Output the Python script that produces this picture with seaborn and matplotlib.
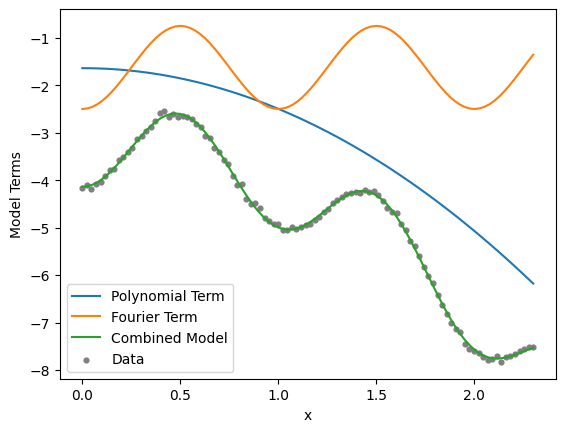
import numpy as np
import pandas as pd
import matplotlib
matplotlib.use("Agg")
import matplotlib.pyplot as plt
import seaborn as sns

# Smooth model curves, read at x = 0.000, 0.025, ..., 2.300
x_curve = np.linspace(0.0, 2.3, 93)
polynomial_term = [
    -1.640, -1.641, -1.642, -1.645, -1.649, -1.653, -1.659, -1.666, -1.674, -1.683,
    -1.694, -1.705, -1.717, -1.731, -1.745, -1.761, -1.777, -1.795, -1.814, -1.834,
    -1.855, -1.877, -1.900, -1.924, -1.949, -1.975, -2.003, -2.031, -2.060, -2.091,
    -2.123, -2.155, -2.189, -2.224, -2.260, -2.297, -2.335, -2.374, -2.414, -2.456,
    -2.498, -2.541, -2.586, -2.632, -2.678, -2.726, -2.775, -2.825, -2.876, -2.928,
    -2.981, -3.035, -3.090, -3.146, -3.204, -3.262, -3.322, -3.382, -3.444, -3.507,
    -3.571, -3.635, -3.701, -3.768, -3.837, -3.906, -3.976, -4.047, -4.120, -4.193,
    -4.268, -4.343, -4.420, -4.498, -4.577, -4.656, -4.737, -4.819, -4.903, -4.987,
    -5.072, -5.158, -5.246, -5.334, -5.424, -5.514, -5.606, -5.699, -5.793, -5.888,
    -5.984, -6.081, -6.179]
fourier_term = [
    -2.500, -2.489, -2.457, -2.405, -2.333, -2.244, -2.139, -2.022, -1.895, -1.762,
    -1.625, -1.488, -1.355, -1.228, -1.111, -1.006, -0.917, -0.845, -0.793, -0.761,
    -0.750, -0.761, -0.793, -0.845, -0.917, -1.006, -1.111, -1.228, -1.355, -1.488,
    -1.625, -1.762, -1.895, -2.022, -2.139, -2.244, -2.333, -2.405, -2.457, -2.489,
    -2.500, -2.489, -2.457, -2.405, -2.333, -2.244, -2.139, -2.022, -1.895, -1.762,
    -1.625, -1.488, -1.355, -1.228, -1.111, -1.006, -0.917, -0.845, -0.793, -0.761,
    -0.750, -0.761, -0.793, -0.845, -0.917, -1.006, -1.111, -1.228, -1.355, -1.488,
    -1.625, -1.762, -1.895, -2.022, -2.139, -2.244, -2.333, -2.405, -2.457, -2.489,
    -2.500, -2.489, -2.457, -2.405, -2.333, -2.244, -2.139, -2.022, -1.895, -1.762,
    -1.625, -1.488, -1.355]
combined_model = [
    -4.140, -4.130, -4.099, -4.050, -3.982, -3.897, -3.798, -3.688, -3.569, -3.445,
    -3.319, -3.193, -3.072, -2.959, -2.856, -2.767, -2.694, -2.640, -2.607, -2.595,
    -2.605, -2.638, -2.693, -2.769, -2.866, -2.981, -3.114, -3.259, -3.415, -3.579,
    -3.748, -3.917, -4.084, -4.246, -4.399, -4.541, -4.668, -4.779, -4.871, -4.945,
    -4.998, -5.030, -5.043, -5.037, -5.011, -4.970, -4.914, -4.847, -4.771, -4.690,
    -4.606, -4.523, -4.445, -4.374, -4.315, -4.268, -4.239, -4.227, -4.237, -4.268,
    -4.321, -4.396, -4.494, -4.613, -4.754, -4.912, -5.087, -5.275, -5.475, -5.681,
    -5.893, -6.105, -6.315, -6.520, -6.716, -6.900, -7.070, -7.224, -7.360, -7.476,
    -7.572, -7.647, -7.703, -7.739, -7.757, -7.758, -7.745, -7.721, -7.688, -7.650,
    -7.609, -7.569, -7.534]

# Observed data points (100 evenly spaced x from 0 to 2.3)
x_data = np.linspace(0.0, 2.3, 100)
y_data = [-4.16, -4.10, -4.19, -4.08, -4.03, -3.91, -3.78, -3.77, -3.58, -3.51,
          -3.41, -3.32, -3.14, -3.06, -2.97, -2.89, -2.76, -2.59, -2.55, -2.67,
          -2.60, -2.66, -2.65, -2.66, -2.71, -2.82, -2.88, -3.08, -3.12, -3.32,
          -3.40, -3.58, -3.67, -3.92, -4.10, -4.09, -4.39, -4.50, -4.48, -4.58,
          -4.80, -4.86, -4.92, -4.92, -5.05, -5.06, -4.99, -5.02, -4.99, -4.94,
          -4.92, -4.85, -4.77, -4.67, -4.61, -4.48, -4.41, -4.36, -4.30, -4.28,
          -4.24, -4.28, -4.21, -4.25, -4.22, -4.31, -4.43, -4.59, -4.68, -4.69,
          -4.92, -5.05, -5.29, -5.39, -5.60, -5.83, -6.01, -6.17, -6.41, -6.64,
          -6.82, -7.00, -7.14, -7.19, -7.45, -7.55, -7.60, -7.64, -7.72, -7.79,
          -7.77, -7.71, -7.83, -7.72, -7.70, -7.66, -7.61, -7.56, -7.51, -7.51]

curves = pd.DataFrame({"x": x_curve, "poly": polynomial_term,
                       "fourier": fourier_term, "combined": combined_model})
points = pd.DataFrame({"x": x_data, "y": y_data})

fig, ax = plt.subplots(figsize=(6.4, 4.8), dpi=100)
sns.lineplot(data=curves, x="x", y="poly", ax=ax, color="#1f77b4", label="Polynomial Term")
sns.lineplot(data=curves, x="x", y="fourier", ax=ax, color="#ff7f0e", label="Fourier Term")
sns.lineplot(data=curves, x="x", y="combined", ax=ax, color="#2ca02c", label="Combined Model")
sns.scatterplot(data=points, x="x", y="y", ax=ax, color="gray", s=20, linewidth=0,
                label="Data", zorder=1)

ax.set_xlabel("x")
ax.set_ylabel("Model Terms")
ax.legend(loc="lower left")
fig.savefig("out.png", dpi=100, bbox_inches="tight")
